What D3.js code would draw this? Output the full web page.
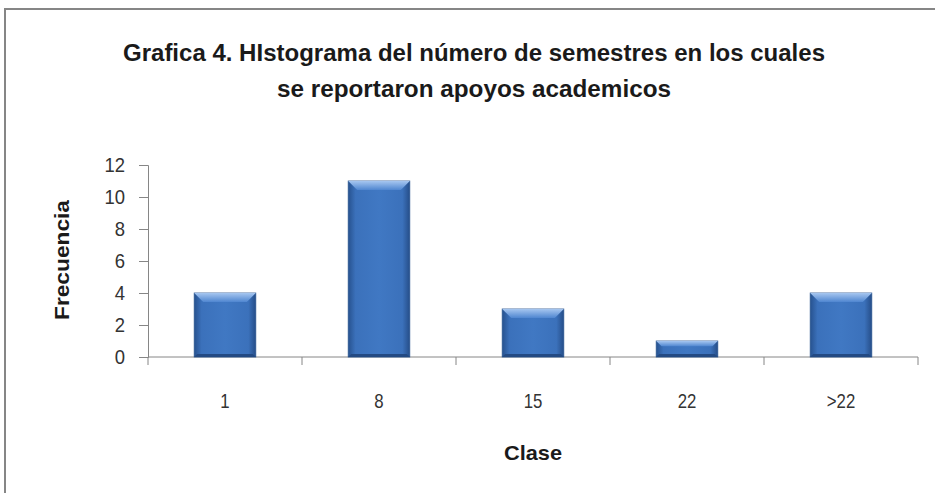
<!DOCTYPE html>
<html>
<head>
<meta charset="utf-8">
<script src="https://cdn.jsdelivr.net/npm/d3@7"></script>
<style>
  body { margin: 0; background: #fff; }
  text { font-family: "Liberation Sans", "Open Sans", sans-serif; }
</style>
</head>
<body>
<div id="chart"></div>
<script>
var width = 935;
var height = 493;

// data
var clases = ["1", "8", "15", "22", ">22"];
var frecuencias = [4, 11, 3, 1, 4];
var yTicks = [0, 2, 4, 6, 8, 10, 12];
var titleLines = ["Grafica 4. HIstograma del número de semestres en los cuales", "se reportaron apoyos academicos"];

var margin = {left: 148, right: 17, top: 165, bottom: 136};

var svg = d3.select("#chart")
  .append("svg")
  .attr("width", width)
  .attr("height", height);

var defs = svg.append("defs");

var side = defs.append("linearGradient").attr("id", "side");
side.append("stop").attr("offset", "0%").attr("stop-color", "#27528f");
side.append("stop").attr("offset", "12%").attr("stop-color", "#3b71bb");
side.append("stop").attr("offset", "50%").attr("stop-color", "#4078c3");
side.append("stop").attr("offset", "88%").attr("stop-color", "#3b71bb");
side.append("stop").attr("offset", "100%").attr("stop-color", "#264e89");

var topg = defs.append("linearGradient").attr("id", "topg")
  .attr("x1", 0).attr("y1", 0).attr("x2", 0).attr("y2", 1);
topg.append("stop").attr("offset", "0%").attr("stop-color", "#a6c6f0");
topg.append("stop").attr("offset", "100%").attr("stop-color", "#4f86d0");

// narrow the glyphs a little, like the original font
function squeeze(sel, k) {
  sel.each(function() {
    var w = this.getComputedTextLength();
    d3.select(this).attr("textLength", w * k).attr("lengthAdjust", "spacingAndGlyphs");
  });
}

// outer frame (cut off at right and bottom)
svg.append("rect")
  .attr("x", 5).attr("y", 9)
  .attr("width", width + 10).attr("height", height + 10)
  .attr("fill", "#fff")
  .attr("stroke", "#868686")
  .attr("stroke-width", 2);

// title
svg.selectAll("text.title")
  .data(titleLines)
  .enter()
  .append("text")
  .attr("class", "title")
  .attr("x", 474)
  .attr("y", function(d, i) { return 61 + i * 36; })
  .attr("text-anchor", "middle")
  .attr("font-size", 23)
  .attr("font-weight", "bold")
  .attr("fill", "#1a1a1a")
  .attr("textLength", function(d, i) { return i == 0 ? 702 : 394; })
  .attr("lengthAdjust", "spacingAndGlyphs")
  .text(function(d) { return d; });

var x = d3.scaleBand()
  .domain(clases)
  .range([margin.left, width - margin.right])
  .paddingInner(0.6)
  .paddingOuter(0.3);

var y = d3.scaleLinear()
  .domain([0, 12])
  .range([height - margin.bottom, margin.top]);

// y axis
var yAxis = svg.append("g")
  .attr("transform", "translate(" + margin.left + ",0)")
  .call(d3.axisLeft(y).tickValues(yTicks).tickSize(9).tickPadding(14));
yAxis.select(".domain").attr("stroke", "#868686");
yAxis.selectAll(".tick line").attr("stroke", "#868686");
yAxis.selectAll(".tick text")
  .attr("font-size", 21)
  .attr("fill", "#333")
  .call(squeeze, 0.88);

// x axis with ticks between categories
var xAxis = svg.append("g")
  .attr("transform", "translate(0," + y(0) + ")");
xAxis.append("line")
  .attr("x1", margin.left).attr("x2", width - margin.right)
  .attr("stroke", "#868686");
var step = x.step();
var bounds = d3.range(clases.length + 1).map(function(i) { return margin.left + i * step; });
xAxis.selectAll("line.tk")
  .data(bounds)
  .enter()
  .append("line")
  .attr("class", "tk")
  .attr("x1", function(d) { return d; })
  .attr("x2", function(d) { return d; })
  .attr("y1", 0).attr("y2", 8)
  .attr("stroke", "#868686");
xAxis.selectAll("text")
  .data(clases)
  .enter()
  .append("text")
  .attr("x", function(d) { return x(d) + x.bandwidth() / 2; })
  .attr("y", 51)
  .attr("text-anchor", "middle")
  .attr("font-size", 21)
  .attr("fill", "#333")
  .text(function(d) { return d; })
  .call(squeeze, 0.8);

// bars
var bars = svg.append("g")
  .selectAll("g")
  .data(clases)
  .enter()
  .append("g");

bars.append("rect")
  .attr("x", function(d) { return x(d); })
  .attr("y", function(d, i) { return y(frecuencias[i]); })
  .attr("width", x.bandwidth())
  .attr("height", function(d, i) { return y(0) - y(frecuencias[i]); })
  .attr("fill", "url(#side)")
  .attr("stroke", "#2a558f")
  .attr("stroke-width", 0.8);

// top bevel
bars.append("path")
  .attr("d", function(d, i) {
    var x0 = x(d), x1 = x(d) + x.bandwidth(), yt = y(frecuencias[i]);
    var b = Math.min(9, (y(0) - yt) / 3);
    return "M" + x0 + "," + yt + "L" + x1 + "," + yt +
      "L" + (x1 - b) + "," + (yt + b) + "L" + (x0 + b) + "," + (yt + b) + "Z";
  })
  .attr("fill", "url(#topg)");

// bottom bevel
bars.append("path")
  .attr("d", function(d, i) {
    var x0 = x(d), x1 = x(d) + x.bandwidth(), yt = y(frecuencias[i]), yb = y(0);
    var b = Math.min(3, (yb - yt) / 4);
    return "M" + x0 + "," + yb + "L" + x1 + "," + yb +
      "L" + (x1 - b) + "," + (yb - b) + "L" + (x0 + b) + "," + (yb - b) + "Z";
  })
  .attr("fill", "#234a83");

// axis titles
svg.append("text")
  .attr("transform", "translate(69,260) rotate(-90)")
  .attr("text-anchor", "middle")
  .attr("font-size", 21)
  .attr("font-weight", "bold")
  .attr("fill", "#1a1a1a")
  .attr("textLength", 120)
  .attr("lengthAdjust", "spacingAndGlyphs")
  .text("Frecuencia");

svg.append("text")
  .attr("x", (margin.left + width - margin.right) / 2)
  .attr("y", 460)
  .attr("text-anchor", "middle")
  .attr("font-size", 21)
  .attr("font-weight", "bold")
  .attr("fill", "#1a1a1a")
  .attr("textLength", 58)
  .attr("lengthAdjust", "spacingAndGlyphs")
  .text("Clase");
</script>
</body>
</html>
